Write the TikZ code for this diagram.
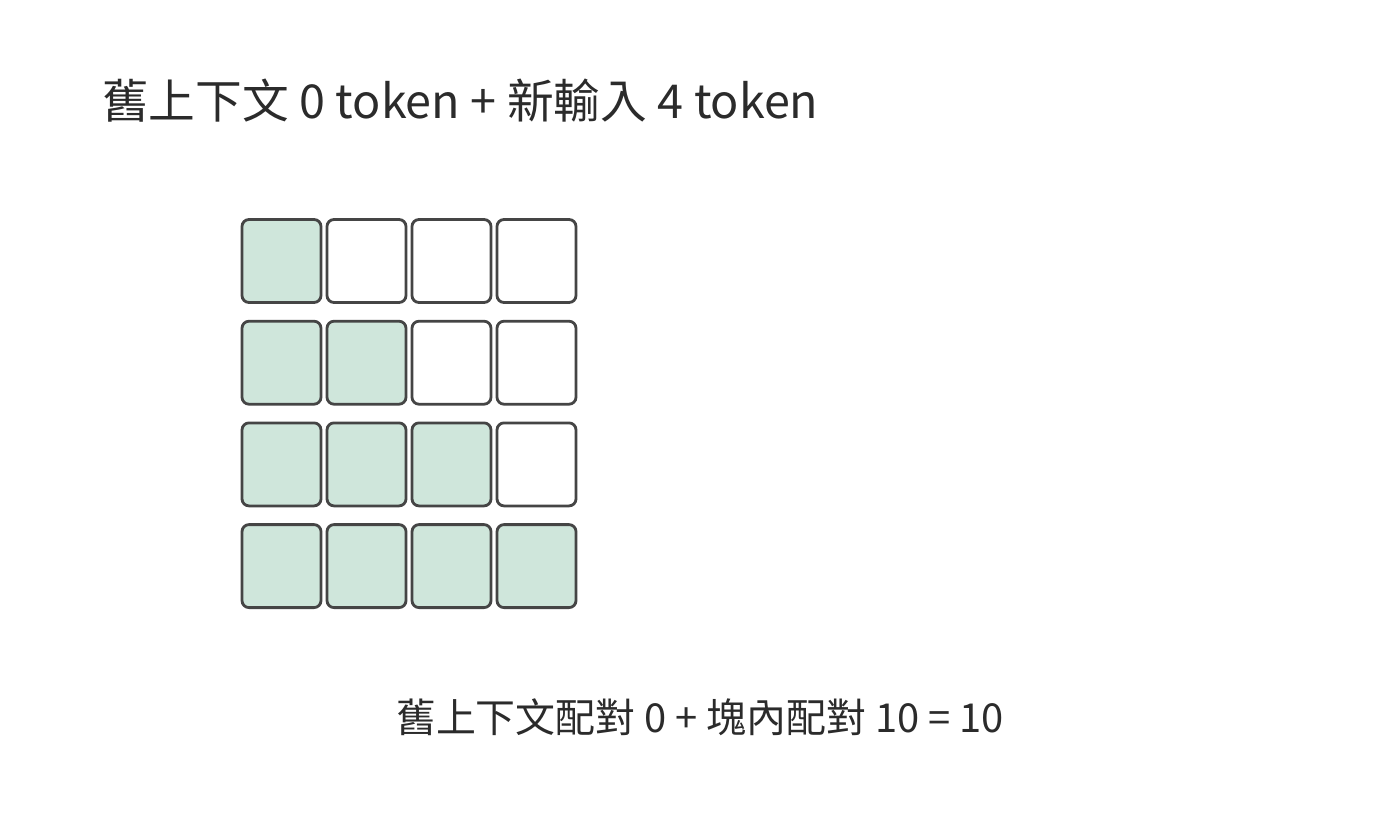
\documentclass[tikz,border=0pt]{standalone}
\usepackage{fontspec}
\setmainfont{Noto Sans CJK TC}
\definecolor{cellfill}{HTML}{CFE6DB}
\definecolor{cellline}{HTML}{454545}
\definecolor{txt}{HTML}{2B2B2B}
\begin{document}
\begin{tikzpicture}[x=1pt,y=-1pt,
  cell/.style={draw=cellline,line width=2.8pt,rounded corners=7pt,minimum width=79pt,minimum height=83pt,inner sep=0pt},
  on/.style={cell,fill=cellfill},
  off/.style={cell,fill=white},
  lbl/.style={text=txt,inner sep=0pt}]
\useasboundingbox[fill=white] (0,0) rectangle (1400,840);
\node[lbl,anchor=west,font=\fontsize{46.7}{54}\selectfont] (title) at (102,101) {舊上下文 0 token + 新輸入 4 token};
\foreach \r in {1,...,4}{
  \foreach \c in {1,...,4}{
    \pgfmathtruncatemacro{\isOn}{\c<=\r ? 1 : 0}
    \ifnum\isOn=1
      \node[on] (c\r\c) at ({281.5+85*(\c-1)},{261+101.7*(\r-1)}) {};
    \else
      \node[off] (c\r\c) at ({281.5+85*(\c-1)},{261+101.7*(\r-1)}) {};
    \fi
  }
}
\node[lbl,font=\fontsize{39.9}{46}\selectfont] (sum) at (700,717) {舊上下文配對 0 + 塊內配對 10 = 10};
\end{tikzpicture}
\end{document}
